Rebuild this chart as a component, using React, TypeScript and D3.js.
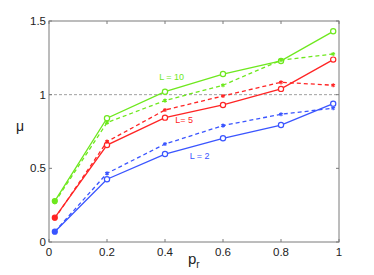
import React, { useEffect, useRef } from "react";
import * as d3 from "d3";

const xs = [0.02, 0.2, 0.4, 0.6, 0.8, 0.98];

// solid = circles, dashed = stars
const green1 = [0.278, 0.84, 1.02, 1.14, 1.229, 1.43];
const green2 = [0.27, 0.81, 0.96, 1.064, 1.234, 1.276];
const red1 = [0.165, 0.658, 0.844, 0.93, 1.039, 1.238];
const red2 = [0.16, 0.681, 0.896, 0.991, 1.084, 1.064];
const blue1 = [0.07, 0.426, 0.597, 0.704, 0.794, 0.939];
const blue2 = [0.07, 0.466, 0.665, 0.79, 0.867, 0.908];

const xTicks = [0, 0.2, 0.4, 0.6, 0.8, 1];
const yTicks = [0, 0.5, 1, 1.5];

const GREEN = "#6ee81e";
const RED = "#ff2424";
const BLUE = "#3a55ff";

const App: React.FC = () => {
  const ref = useRef<SVGSVGElement>(null);

  useEffect(() => {
    const W = 374,
      H = 275;
    const margin = { top: 21, right: 35, bottom: 33, left: 49 };
    const svg = d3.select(ref.current);
    svg.selectAll("*").remove();

    const x = d3.scaleLinear().domain([0, 1]).range([margin.left, W - margin.right]);
    const y = d3.scaleLinear().domain([0, 1.5]).range([H - margin.bottom, margin.top]);
    const font = "Helvetica, Arial, 'Liberation Sans', sans-serif";

    svg.append("rect").attr("width", W).attr("height", H).attr("fill", "#fff");

    // reference line at 1
    svg
      .append("line")
      .attr("x1", x(0))
      .attr("x2", x(1))
      .attr("y1", y(1))
      .attr("y2", y(1))
      .attr("stroke", "#888")
      .attr("stroke-width", 0.8)
      .attr("stroke-dasharray", "3,2");

    const series = [
      { v: green1, c: GREEN, dash: false },
      { v: green2, c: GREEN, dash: true },
      { v: red1, c: RED, dash: false },
      { v: red2, c: RED, dash: true },
      { v: blue1, c: BLUE, dash: false },
      { v: blue2, c: BLUE, dash: true },
    ];

    const line = d3
      .line<number>()
      .x((_d, i) => x(xs[i]))
      .y((d) => y(d));

    series.forEach((s) => {
      svg
        .append("path")
        .attr("d", line(s.v))
        .attr("fill", "none")
        .attr("stroke", s.c)
        .attr("stroke-width", 1.3)
        .attr("stroke-dasharray", s.dash ? "4,3" : null);

      if (s.dash) {
        svg
          .selectAll(null)
          .data(s.v)
          .enter()
          .append("path")
          .attr("d", d3.symbol(d3.symbolAsterisk, 12)())
          .attr("transform", (d, i) => `translate(${x(xs[i])},${y(d)})`)
          .attr("fill", "none")
          .attr("stroke", s.c)
          .attr("stroke-width", 1.2);
      } else {
        svg
          .selectAll(null)
          .data(s.v)
          .enter()
          .append("circle")
          .attr("cx", (_d, i) => x(xs[i]))
          .attr("cy", (d) => y(d))
          .attr("r", (_d, i) => (i === 0 ? 2.5 : 2.6))
          .attr("fill", (_d, i) => (i === 0 ? s.c : "#fff"))
          .attr("stroke", s.c)
          .attr("stroke-width", 1.2);
      }
    });

    // box and ticks
    const axisC = "#7a7a7a";
    svg
      .append("rect")
      .attr("x", x(0))
      .attr("y", y(1.5))
      .attr("width", x(1) - x(0))
      .attr("height", y(0) - y(1.5))
      .attr("fill", "none")
      .attr("stroke", axisC)
      .attr("stroke-width", 1);

    const tl = 3;
    xTicks.forEach((t) => {
      svg.append("line").attr("x1", x(t)).attr("x2", x(t)).attr("y1", y(0)).attr("y2", y(0) - tl).attr("stroke", axisC);
      svg.append("line").attr("x1", x(t)).attr("x2", x(t)).attr("y1", y(1.5)).attr("y2", y(1.5) + tl).attr("stroke", axisC);
      svg
        .append("text")
        .attr("x", x(t))
        .attr("y", y(0) + 14)
        .attr("text-anchor", "middle")
        .attr("font-family", font)
        .attr("font-size", 11.5)
        .attr("fill", "#222")
        .text(String(t));
    });
    yTicks.forEach((t) => {
      svg.append("line").attr("x1", x(0)).attr("x2", x(0) + tl).attr("y1", y(t)).attr("y2", y(t)).attr("stroke", axisC);
      svg.append("line").attr("x1", x(1)).attr("x2", x(1) - tl).attr("y1", y(t)).attr("y2", y(t)).attr("stroke", axisC);
      svg
        .append("text")
        .attr("x", x(0) - 3)
        .attr("y", y(t) + 4)
        .attr("text-anchor", "end")
        .attr("font-family", font)
        .attr("font-size", 11.5)
        .attr("fill", "#222")
        .text(String(t));
    });

    // axis labels
    svg
      .append("text")
      .attr("x", 20)
      .attr("y", 131)
      .attr("text-anchor", "middle")
      .attr("font-family", font)
      .attr("font-size", 14)
      .attr("fill", "#222")
      .text("μ");
    const xl = svg
      .append("text")
      .attr("x", 188)
      .attr("y", 264)
      .attr("font-family", font)
      .attr("font-size", 15)
      .attr("fill", "#222");
    xl.append("tspan").text("p");
    xl.append("tspan").attr("font-size", 10).attr("dy", 4).text("r");

    // series labels
    const labels = [
      { t: "L = 10", px: 0.38, py: 1.1, c: GREEN },
      { t: "L= 5", px: 0.435, py: 0.805, c: RED },
      { t: "L = 2", px: 0.485, py: 0.56, c: BLUE },
    ];
    labels.forEach((l) => {
      svg
        .append("text")
        .attr("x", x(l.px))
        .attr("y", y(l.py))
        .attr("font-family", font)
        .attr("font-size", 9)
        .attr("fill", l.c)
        .text(l.t);
    });
  }, []);

  return (
    <svg
      ref={ref}
      width={374}
      height={275}
      style={{ position: "absolute", left: 0, top: 0 }}
    />
  );
};

export default App;
